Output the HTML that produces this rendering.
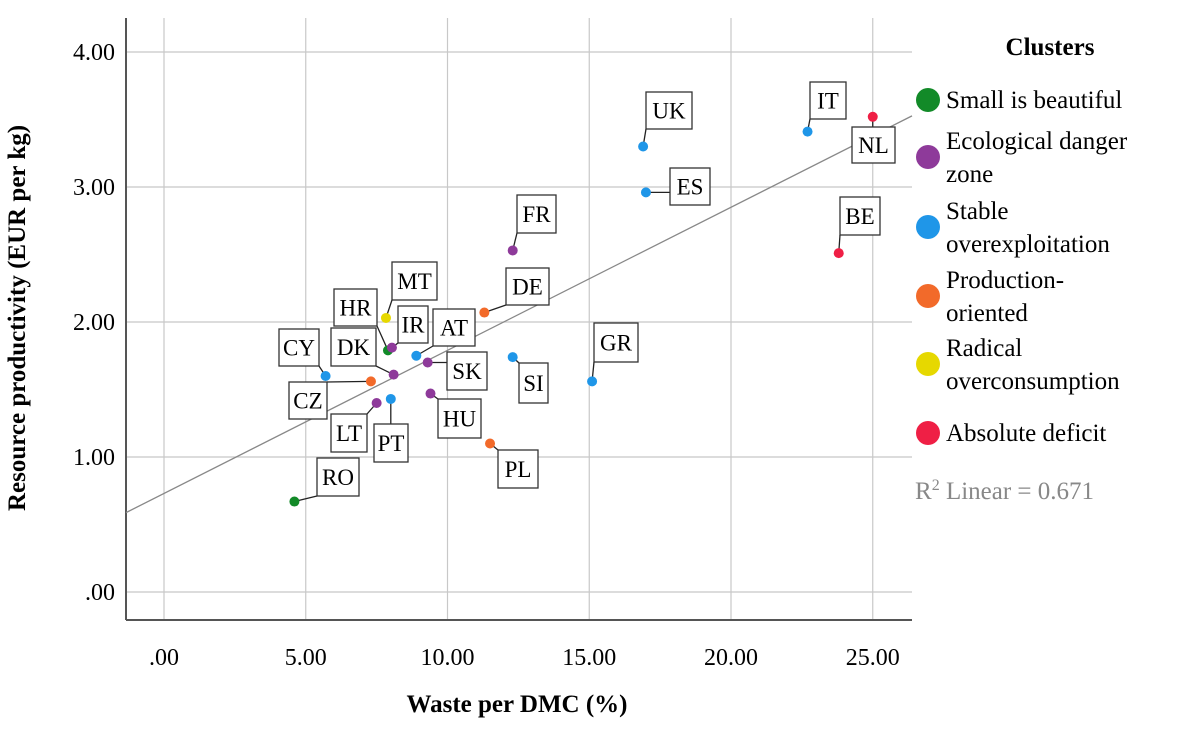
<!DOCTYPE html>
<html><head><meta charset="utf-8"><style>
html,body{margin:0;padding:0;background:#fff;}
svg{display:block;font-family:"Liberation Serif",serif;}
</style></head><body>
<svg id="chart" width="1200" height="732" viewBox="0 0 1200 732">
<g id="grid"></g>
<g id="axes"></g>
<g id="fit"></g>
<g id="labels"></g>
<g id="points"></g>
<g id="legend"></g>
<text x="25" y="318" transform="rotate(-90 25 318)" text-anchor="middle" font-size="25" font-weight="bold">Resource productivity (EUR per kg)</text>
<text x="517" y="712" text-anchor="middle" font-size="25" font-weight="bold">Waste per DMC (%)</text>
</svg>
<script>
const countries=["RO","DK","HR","MT","CY","CZ","LT","IR","SK","HU","AT","PT","SI","UK","ES","GR","IT","FR","DE","PL","NL","BE"];
const wasteValues=[4.6,8.1,7.9,7.83,5.7,7.3,7.5,8.04,9.3,9.4,8.9,8.0,12.3,16.9,17.0,15.1,22.7,12.3,11.3,11.5,25.0,23.8];
const productivityValues=[0.67,1.61,1.79,2.03,1.60,1.56,1.40,1.81,1.70,1.47,1.75,1.43,1.74,3.30,2.96,1.56,3.41,2.53,2.07,1.10,3.52,2.51];
const clusterIndex=[0,1,0,4,2,3,1,1,1,1,2,2,2,2,2,2,2,1,3,3,5,5];
const clusterNames=["Small is beautiful","Ecological danger zone","Stable overexploitation","Production-oriented","Radical overconsumption","Absolute deficit"];
const xTicks=[0,5,10,15,20,25];
const xTickLabels=[".00","5.00","10.00","15.00","20.00","25.00"];
const yTicks=[0,1,2,3,4];
const yTickLabels=[".00","1.00","2.00","3.00","4.00"];
const fitParams=[0.73,0.106];
const colors=["#128a28","#8e3a9a","#1f96e8","#f26a2a","#e6d800","#ef1f45"];
// label box positions [x,y,w,h]
const boxes={RO:[317,458,42,38],DK:[331,328,45,38],HR:[334,289,43,37],MT:[392,262,45,38],CY:[279,329,40,37],CZ:[289,382,38,37],LT:[331,414,36,38],IR:[398,306,30,37],SK:[447,352,40,38],HU:[438,399,43,39],AT:[433,309,42,37],PT:[374,424,34,38],SI:[519,363,29,40],UK:[646,92,46,37],ES:[670,168,40,37],GR:[594,323,44,39],IT:[810,82,36,37],FR:[517,195,39,38],DE:[506,268,43,37],PL:[498,450,40,38],NL:[852,127,43,36],BE:[840,197,40,38]};
const L=126,R=912,T=18,B=620;
const X=v=>164+v*28.35, Y=v=>592-v*135;
const NS="http://www.w3.org/2000/svg";
function mk(tag,attrs,parent,txt){const e=document.createElementNS(NS,tag);for(const k in attrs)e.setAttribute(k,attrs[k]);if(txt!==undefined)e.textContent=txt;parent.appendChild(e);return e;}
const grid=document.getElementById('grid'),axes=document.getElementById('axes');
mk('rect',{x:L,y:T,width:R-L,height:B-T,fill:'#fff',stroke:'none'},grid);
xTicks.forEach((t,i)=>{
 const l=mk('line',{x1:X(t),x2:X(t),y1:T,y2:B,stroke:'#c8c8c8','stroke-width':1.2},grid);
 
 
 const tx=mk('text',{x:X(t),y:B+45,'text-anchor':'middle','font-size':24},axes,xTickLabels[i]);
 
 
});
yTicks.forEach((t,i)=>{
 const l=mk('line',{x1:L,x2:R,y1:Y(t),y2:Y(t),stroke:'#c8c8c8','stroke-width':1.2},grid);
 
 
 const tx=mk('text',{x:115,y:Y(t)+8,'text-anchor':'end','font-size':24},axes,yTickLabels[i]);
 
 
});
mk('line',{x1:L,x2:R,y1:B,y2:B,stroke:'#555','stroke-width':2},axes);
mk('line',{x1:L,x2:L,y1:T,y2:B,stroke:'#555','stroke-width':2},axes);
// fit line
const xl=(L-164)/28.35,xr=(R-164)/28.35;
const fl=mk('line',{x1:L,y1:Y(fitParams[0]+fitParams[1]*xl),x2:R,y2:Y(fitParams[0]+fitParams[1]*xr),stroke:'#888','stroke-width':1.3},document.getElementById('fit'));


const lg=document.getElementById('labels'),pg=document.getElementById('points');
countries.forEach((c,i)=>{
 const px=X(wasteValues[i]),py=Y(productivityValues[i]);
 const b=boxes[c];
 const cx=Math.max(b[0],Math.min(px,b[0]+b[2])),cy=Math.max(b[1],Math.min(py,b[1]+b[3]));
 mk('line',{x1:px,y1:py,x2:cx,y2:cy,stroke:'#222','stroke-width':1.3},lg);
 const r=mk('rect',{x:b[0],y:b[1],width:b[2],height:b[3],fill:'#fff',stroke:'#333','stroke-width':1.3},lg);
 
 
 mk('text',{x:b[0]+b[2]/2,y:b[1]+b[3]/2+8,'text-anchor':'middle','font-size':23},lg,c);
 const d=mk('circle',{cx:px,cy:py,r:5,fill:colors[clusterIndex[i]]},pg);
 
 
});
const leg=document.getElementById('legend');
mk('text',{x:1050,y:55,'text-anchor':'middle','font-size':25,'font-weight':'bold'},leg,'Clusters');
const legY=[100,157,227,296,364,433];
const legLines=[["Small is beautiful"],["Ecological danger","zone"],["Stable","overexploitation"],["Production-","oriented"],["Radical","overconsumption"],["Absolute deficit"]];
legLines.forEach((ls,i)=>{
 const g=mk('g',{},leg);
 
 
 const y0=ls.length>1?legY[i]-16:legY[i];
 mk('circle',{cx:928,cy:legY[i],r:12,fill:colors[i]},g);
 ls.forEach((t,j)=>mk('text',{x:946,y:y0+8+j*33,'font-size':25},g,t));
});
const r2=mk('text',{x:915,y:499,'font-size':25,fill:'#888'},leg);
r2.innerHTML='R<tspan dy="-9" font-size="16">2</tspan><tspan dy="9"> Linear = 0.671</tspan>';


</script>
</body></html>
